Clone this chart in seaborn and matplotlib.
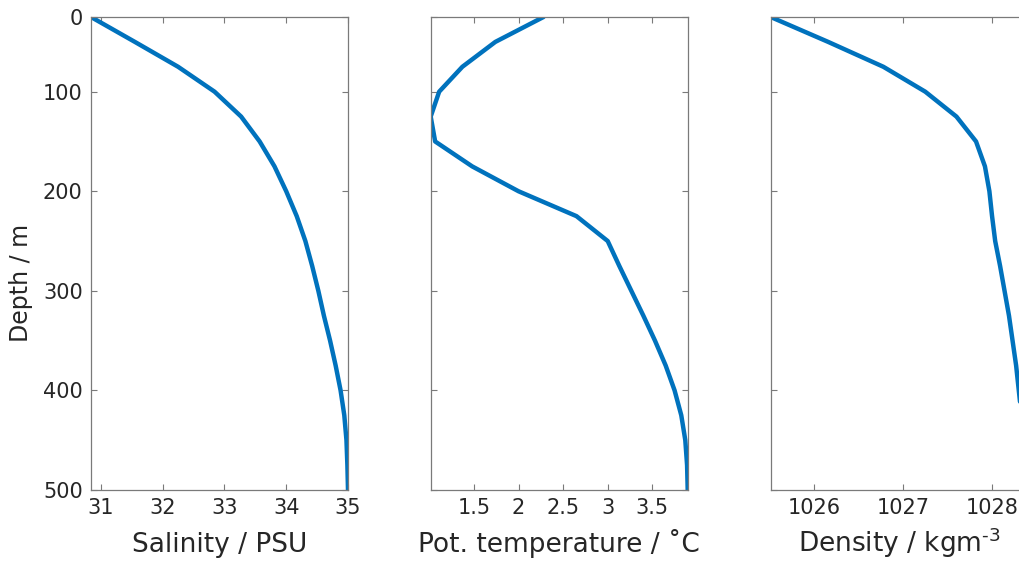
# CTD profile: salinity, potential temperature and density against depth

import numpy as np
import pandas as pd
import matplotlib
matplotlib.use('Agg')
import matplotlib.pyplot as plt
import seaborn as sns

sns.set_theme(style='ticks')
plt.rcParams['font.family'] = ['DejaVu Sans']
plt.rcParams['mathtext.fontset'] = 'dejavusans'


# ── Data ──────────────────────────────────────────────────────────────────────

depth = [25, 50, 75, 100, 125, 150, 175, 200, 225, 250,
         275, 300, 325, 350, 375, 400, 425, 450, 475, 500]

salinity = [30.84, 31.55, 32.25, 32.84, 33.27, 33.57, 33.81, 34.00, 34.17, 34.31,
            34.42, 34.52, 34.61, 34.71, 34.80, 34.88, 34.94, 34.975, 34.99, 35.00]

temperature = [2.28, 1.74, 1.37, 1.11, 1.015, 1.065, 1.48, 2.00, 2.65, 3.00,
               3.13, 3.265, 3.40, 3.53, 3.65, 3.75, 3.825, 3.87, 3.89, 3.897]

density = [1025.515, 1026.16, 1026.78, 1027.25, 1027.60, 1027.82, 1027.92, 1027.97, 1028.00, 1028.035,
           1028.09, 1028.14, 1028.19, 1028.23, 1028.27, 1028.30, 1028.33, 1028.36, 1028.38, 1028.40]

depth_ticks = [25, 100, 200, 300, 400, 500]
depth_labels = ['0', '100', '200', '300', '400', '500']

sal_ticks = [31, 32, 33, 34, 35]
temp_ticks = [1.5, 2, 2.5, 3, 3.5]
dens_ticks = [1026, 1027, 1028]

xlabels = ['Salinity / PSU', 'Pot. temperature / \u02daC', 'Density / kgm$^{\u20103}$']


# ── Figure ────────────────────────────────────────────────────────────────────

df = pd.DataFrame({'depth': depth, 'salinity': salinity,
                   'temperature': temperature, 'density': density})

fig = plt.figure(figsize=(10.2, 5.61), dpi=100)

lefts = [91 / 1020, 430.7 / 1020, 770.7 / 1020]
width = 257 / 1020
bottom = 1 - 490 / 561
height = 473 / 561

text_c = '#262626'
spine_c = '#7a7a7a'

columns = ['salinity', 'temperature', 'density']
all_ticks = [sal_ticks, temp_ticks, dens_ticks]
tick_text = [[str(t) for t in sal_ticks], ['1.5', '2', '2.5', '3', '3.5'], [str(t) for t in dens_ticks]]

for i, col in enumerate(columns):
    ax = fig.add_axes([lefts[i], bottom, width, height])
    sns.lineplot(data=df, x=col, y='depth', orient='y', estimator=None, sort=False,
                 color='#0072BD', linewidth=3.2, ax=ax)

    ax.set_xlim(df[col].min(), df[col].max())
    ax.set_ylim(500, 25)

    ax.set_xticks(all_ticks[i])
    ax.set_xticklabels(tick_text[i])
    ax.set_yticks(depth_ticks)
    if i == 0:
        ax.set_yticklabels(depth_labels)
        ax.set_ylabel('Depth / m', fontsize=17, color=text_c)
        ax.yaxis.set_label_coords(-0.226, 0.4376)
    else:
        ax.set_yticklabels([])
        ax.set_ylabel('')

    ax.set_xlabel(xlabels[i], fontsize=19, color=text_c, va='baseline')
    ax.xaxis.set_label_coords(0.5, -0.131)

    ax.tick_params(direction='in', length=4.3, width=0.8, color=spine_c,
                   labelsize=15, labelcolor=text_c, top=True, right=True, pad=6)
    for s in ax.spines.values():
        s.set_visible(True)
        s.set_color(spine_c)
        s.set_linewidth(0.9)

fig.savefig('out.png', dpi=100)
